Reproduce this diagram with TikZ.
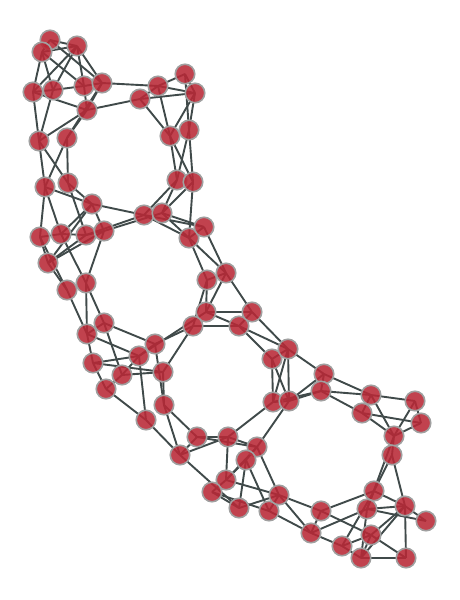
\documentclass[tikz,border=0pt]{standalone}
\usetikzlibrary{backgrounds}
\begin{document}
\begin{tikzpicture}[x=1pt,y=-1pt,
  vtx/.style={circle,minimum size=19.5pt,inner sep=0pt,fill=nodered,fill opacity=0.88,draw=nodegray,line width=1.6pt},
  edge/.style={draw=edgegray,line width=1.9pt}]
\definecolor{nodered}{RGB}{184,40,54}
\definecolor{nodegray}{RGB}{160,160,160}
\definecolor{edgegray}{RGB}{64,74,74}
\useasboundingbox (0,0) rectangle (459,600);
\foreach \n/\x/\y in {
1/50/40, 2/42/52, 3/77/46, 4/33/92, 5/53/90, 6/84/86, 7/102/83, 8/87/110,
9/140/99, 10/158/86, 11/185/74, 12/195/93, 13/170/136, 14/189/130,
15/39/141, 16/67/138, 17/45/187, 18/68/183, 19/177/180, 20/193/182,
21/92/204, 22/40/237, 23/61/234, 24/86/235, 25/104/231, 26/48/263, 27/67/290, 28/86/283,
29/144/215, 30/162/213, 31/189/238, 32/204/227, 33/207/280, 34/226/273,
35/206/312, 36/193/326, 37/239/326, 38/252/312,
39/104/323, 40/87/334, 41/155/344, 42/139/356, 43/93/363, 44/122/375, 45/106/389, 46/163/372, 47/164/405, 48/146/420,
49/272/359, 50/288/349, 51/273/402, 52/289/401,
53/197/437, 54/228/437, 55/180/455, 56/257/447, 57/246/460, 58/226/480, 59/212/492, 60/239/508, 61/269/511, 62/279/495,
63/324/374, 64/321/391, 65/362/413, 66/371/395, 67/415/401, 68/421/423, 69/394/436, 70/392/455,
71/321/511, 72/311/533, 73/342/546, 74/361/558, 75/374/491, 76/367/509, 77/371/535, 78/405/506, 79/426/521, 80/406/558}
  \node[vtx] (n\n) at (\x,\y) {};
\begin{scope}[on background layer]
\foreach \a/\b in {
1/2, 1/3, 2/3, 1/7, 2/6, 2/4, 2/5, 3/4, 3/5, 3/6, 3/7, 4/5, 5/6, 6/7, 4/8, 6/8, 7/8, 4/15, 5/15, 8/15, 7/16, 8/16, 7/10, 8/9,
9/10, 10/11, 9/12, 10/12, 11/12, 9/13, 10/13, 11/14, 12/14, 12/13, 13/19, 13/20, 14/19, 14/20,
15/17, 15/18, 16/17, 16/18, 17/21, 17/22, 17/23, 18/21, 18/24, 21/23, 21/26, 21/25, 21/29, 22/23, 23/24, 24/25, 22/26, 24/26, 25/26, 22/27, 23/28, 25/28, 26/27, 24/29, 25/30,
19/29, 19/30, 20/30, 20/31, 29/31, 29/32, 30/31, 30/32, 31/32, 31/33, 31/34, 32/34, 33/34, 33/35, 33/36, 34/35, 34/38, 35/37, 36/37, 35/38, 37/38,
27/40, 28/40, 28/39, 39/40, 39/41, 39/44, 40/42, 40/43, 36/41, 35/42, 36/46, 41/42, 41/47, 42/43, 42/44, 42/48, 43/46, 44/46, 43/45, 44/45, 45/48, 46/47, 47/53, 48/55, 47/55,
37/49, 38/50, 37/50, 49/50, 49/51, 49/52, 50/51, 50/52, 51/52, 50/63, 51/64, 52/63, 52/64, 51/54, 52/56,
53/54, 53/56, 54/56, 55/54, 54/58, 56/58, 57/58, 56/57, 56/62, 57/60, 57/61, 55/60, 58/59, 58/62, 59/60, 59/61, 60/62, 61/62, 62/71, 61/72, 71/72, 72/73, 53/55,
63/64, 63/66, 64/66, 64/65, 65/66, 66/67, 65/68, 66/69, 65/69, 67/69, 67/68, 68/69, 69/70, 70/75, 69/76, 70/78,
62/72, 71/75, 71/77, 72/76, 73/75, 73/77, 74/76, 74/77, 74/78, 74/80, 77/80, 75/76, 75/78, 76/78, 76/79, 78/79, 78/80, 77/78, 73/74}
  \path[edge] (n\a.center) -- (n\b.center);
\end{scope}
\end{tikzpicture}
\end{document}
